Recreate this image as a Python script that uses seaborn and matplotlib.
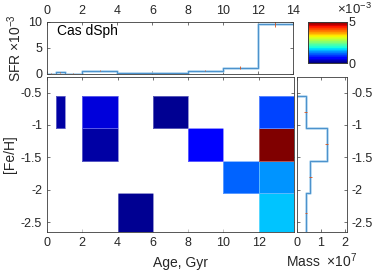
import numpy as np
import pandas as pd
import seaborn as sns
import matplotlib as mpl
import matplotlib.pyplot as plt

# age bins (Gyr) and star formation rate, x1e-3
age_edges = [0, 0.5, 1, 2, 4, 6, 8, 10, 12, 14]
sfr = [0.05, 0.35, 0.05, 0.65, 0.15, 0.15, 0.6, 1.2, 9.55]
sfr_err = [0.05, 0.1, 0.05, 0.1, 0.05, 0.05, 0.1, 0.25, 0.55]

# metallicity bins, top to bottom
feh_edges = [-0.55, -1.05, -1.55, -2.05, -2.65]
mass = [0.37, 1.25, 0.55, 0.38]          # x1e7
mass_err = [0.06, 0.07, 0.06, 0.06]

# filled cells of the age-metallicity map
cell_age = [0.75, 3, 3, 5, 7, 9, 11, 13, 13, 13, 13]
cell_feh = [-0.8, -0.8, -1.3, -2.35, -0.8, -1.3, -1.8, -0.8, -1.3, -1.8, -2.35]
cell_sfr = [0.00016, 0.00044, 0.0002, 0.00013, 0.000125, 0.0006, 0.0011,
            0.00098, 0.005, 0.00133, 0.00163]

sns.set_style("ticks")
plt.rcParams['font.family'] = ['Liberation Sans', 'DejaVu Sans']
plt.rcParams['mathtext.fontset'] = 'custom'
plt.rcParams['mathtext.rm'] = 'Liberation Sans'
plt.rcParams['mathtext.it'] = 'Liberation Sans'
plt.rcParams['font.size'] = 9
tc = '#262626'
ec = '#3a3a3a'
lab = 10

fig = plt.figure(figsize=(3.82, 2.73), dpi=100)
W, H = 382, 273
def box(l, t, r, b):
    return [l / W, 1 - b / H, (r - l) / W, (b - t) / H]

ax_top = fig.add_axes(box(47, 22, 293, 74))
ax = fig.add_axes(box(47, 77, 294, 232))
ax_r = fig.add_axes(box(297, 77, 347, 232))
cax = fig.add_axes(box(308, 22, 347, 63))

light = '#a6cfec'
dark = '#3b87c6'
err_c = '#D95319'

# top: SFR stairs
steps = pd.DataFrame({'age': age_edges, 'sfr': sfr + [sfr[-1]]})
for c, lw in [(light, 1.8), (dark, 0.6)]:
    sns.lineplot(data=steps, x='age', y='sfr', ax=ax_top, color=c, lw=lw,
                 drawstyle='steps-post', estimator=None, sort=False)
centers = [(a + b) / 2 for a, b in zip(age_edges[:-1], age_edges[1:])]
ax_top.errorbar(centers, sfr, yerr=sfr_err, fmt='none', ecolor=err_c, elinewidth=0.6)
ax_top.set_xlim(0, 14)
ax_top.set_ylim(0, 10)
ax_top.set_xticks(range(0, 15, 2))
ax_top.set_yticks([0, 5, 10])
ax_top.tick_params(direction='in', length=2.5, top=True, right=True,
                   labeltop=True, labelbottom=False, colors=ec, labelcolor=tc, width=0.5)
ax_top.set_xlabel('')
ax_top.set_ylabel(r'SFR $\times10^{-3}$', color=tc, labelpad=3, fontsize=lab)
ax_top.text(0.55, 8.3, 'Cas dSph', fontsize=lab, color='k', va='center')

# main: age-metallicity map
jet = mpl.colormaps['jet'].resampled(64)
cells = pd.DataFrame({'age': cell_age, 'feh': cell_feh, 'w': cell_sfr})
sns.histplot(data=cells, x='age', y='feh', weights='w', ax=ax,
             bins=(age_edges, sorted(feh_edges)), cmap=jet, vmin=0, vmax=0.005,
             cbar=True, cbar_ax=cax, cbar_kws={'ticks': [0, 0.005]},
             edgecolor=(1, 1, 1, 0.35), linewidth=0.6)
ax.set_xlim(0, 14)
ax.set_ylim(-2.65, -0.26)
ax.set_xticks(range(0, 13, 2))
ax.set_yticks([-0.5, -1, -1.5, -2, -2.5])
ax.set_yticklabels(['-0.5', '-1', '-1.5', '-2', '-2.5'])
ax.tick_params(direction='in', length=2.5, top=True, right=True,
               colors=ec, labelcolor=tc, width=0.5)
ax.set_xlabel('Age, Gyr', color=tc, fontsize=lab)
ax.xaxis.set_label_coords(0.54, -0.155)
ax.set_ylabel('[Fe/H]', color=tc, labelpad=3, fontsize=lab)

# colorbar
cax.set_yticklabels(['0', '5'])
cax.yaxis.get_offset_text().set_visible(False)
cax.tick_params(direction='in', length=0, colors=ec, labelcolor=tc, pad=1)
cax.text(1.2, 1.12, r'$\times10^{-3}$', transform=cax.transAxes, color=tc,
         va='bottom', ha='center', fontsize=9.5)

# right: mass distribution
mx, my = [0], [feh_edges[0]]
for i, m in enumerate(mass):
    mx += [m, m]
    my += [feh_edges[i], feh_edges[i + 1]]
prof = pd.DataFrame({'m': mx, 'feh': my})
for c, lw in [(light, 1.8), (dark, 0.6)]:
    sns.lineplot(data=prof, x='m', y='feh', ax=ax_r, color=c, lw=lw,
                 estimator=None, sort=False)
fcent = [(a + b) / 2 for a, b in zip(feh_edges[:-1], feh_edges[1:])]
ax_r.errorbar(mass, fcent, xerr=mass_err, fmt='none', ecolor=err_c, elinewidth=0.6)
ax_r.set_xlim(0, 2.1)
ax_r.set_ylim(-2.65, -0.26)
ax_r.set_xticks([0, 1, 2])
ax_r.set_yticks([-0.5, -1, -1.5, -2, -2.5])
ax_r.set_yticklabels(['-0.5', '-1', '-1.5', '-2', '-2.5'])
ax_r.tick_params(direction='in', length=2.5, top=True, right=True, left=True,
                 labelleft=False, labelright=True, colors=ec, labelcolor=tc, width=0.5)
ax_r.set_ylabel('')
ax_r.set_xlabel(r'Mass  $\times10^{7}$', color=tc, labelpad=2, fontsize=lab)

for a in [ax_top, ax, ax_r, cax]:
    for s in a.spines.values():
        s.set_visible(True)
        s.set_color(ec)
        s.set_linewidth(0.6)

fig.savefig('out.png', dpi=100)
